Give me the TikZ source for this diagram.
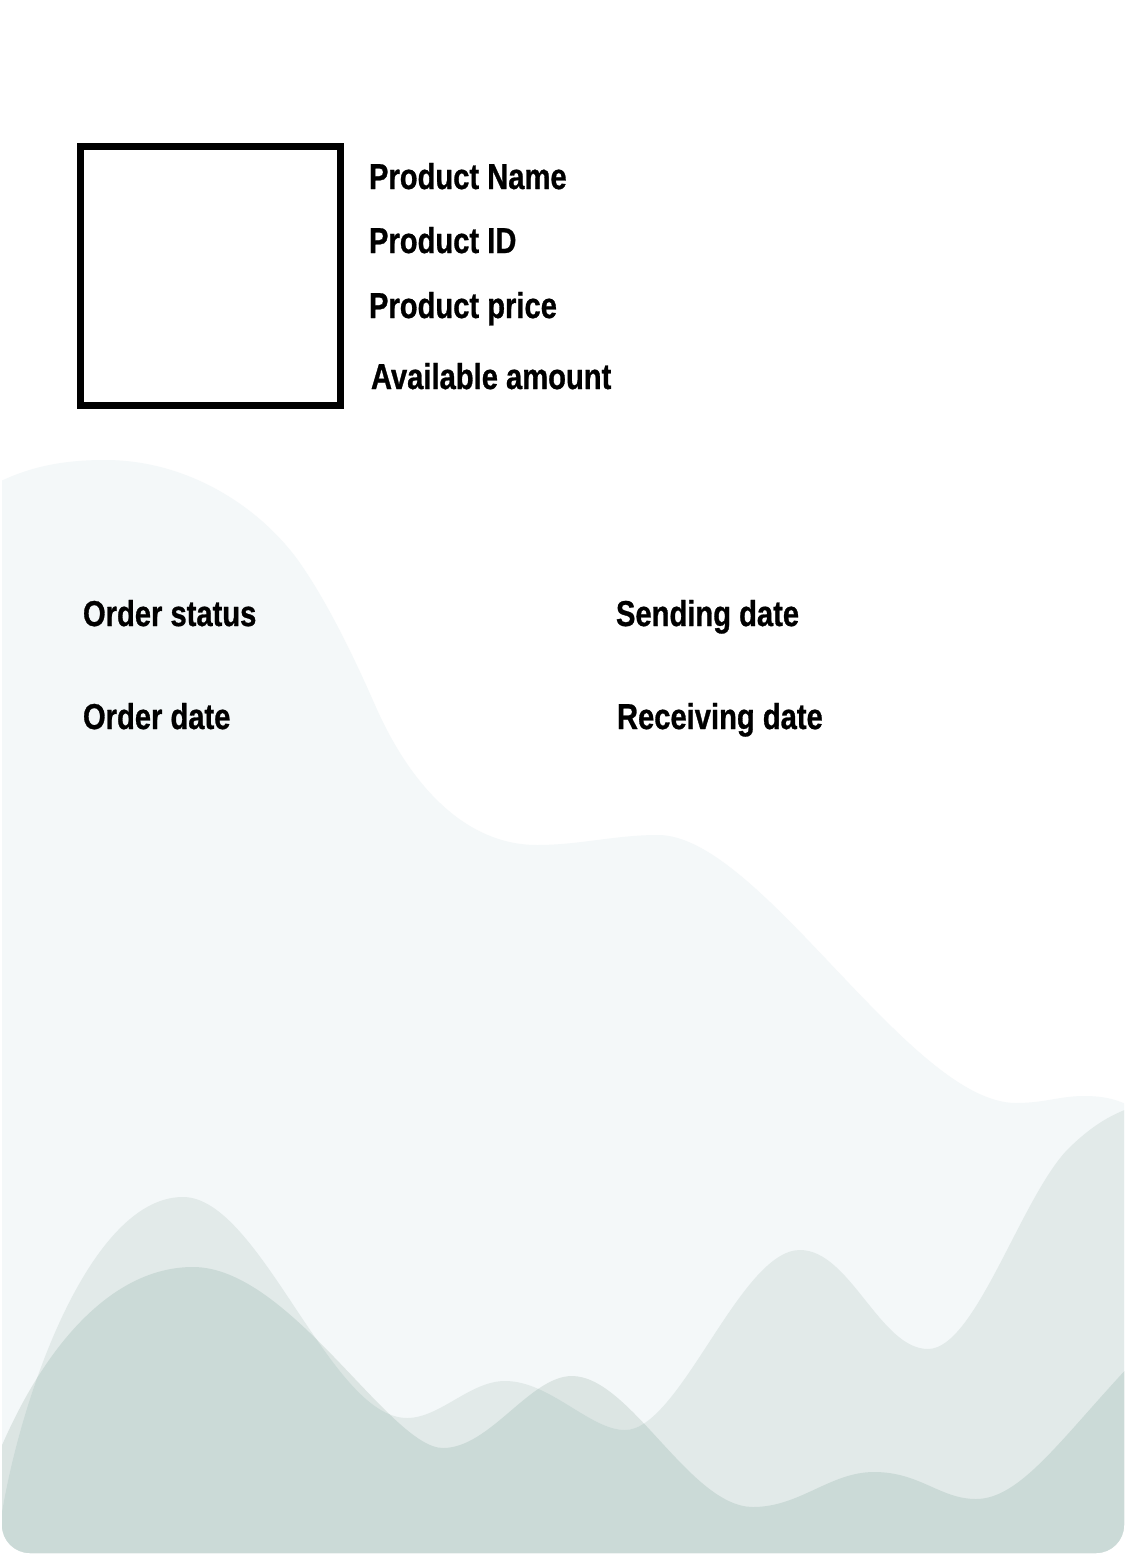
\documentclass[tikz,border=0pt]{standalone}
\usepackage{fontspec}
\newfontfamily\labfont{Liberation Sans}[FakeStretch=0.81, BoldFeatures={FakeBold=0.8}]
\definecolor{wavelight}{HTML}{F4F8F9}
\definecolor{wavemid}{HTML}{E2EAE9}
\definecolor{wavedarkonly}{HTML}{DCE5E3}
\definecolor{wavedark}{HTML}{CBDAD7}
\tikzset{
  lab/.style={anchor=base west, inner sep=0pt, outer sep=0pt, font=\labfont\bfseries\fontsize{36}{42}\selectfont, text=black},
  photobox/.style={draw=black, line width=7pt, inner sep=0pt, minimum width=260pt, minimum height=259pt, fill=white}
}
\begin{document}
\begin{tikzpicture}[x=1pt,y=-1pt]
\useasboundingbox (0,0) rectangle (1125,1555);
\fill[white] (0,0) rectangle (1125,1555);
\begin{scope}
\clip[rounded corners=28pt] (2,-100) rectangle (1124,1553);
% light layer
\fill[wavelight] (-5,484) .. controls (30,466) and (65,460) .. (105,460)
  .. controls (190,460) and (262,509) .. (300,563)
  .. controls (325,599) and (350,648) .. (375,705)
  .. controls (410,785) and (465,845) .. (537,845)
  .. controls (580,845) and (615,835) .. (658,835)
  .. controls (760,835) and (910,1103) .. (1016,1103)
  .. controls (1045,1103) and (1060,1096) .. (1084,1096)
  .. controls (1105,1096) and (1118,1100) .. (1130,1106)
  -- (1130,1600) -- (-5,1600) -- cycle;
% dark layer (alone)
\fill[wavedarkonly] (-5,1462) .. controls (40,1350) and (110,1267) .. (193,1267)
  .. controls (290,1267) and (390,1448) .. (443,1448)
  .. controls (490,1448) and (530,1376) .. (572,1376)
  .. controls (630,1376) and (690,1507) .. (753,1507)
  .. controls (800,1507) and (830,1472) .. (874,1472)
  .. controls (920,1472) and (940,1499) .. (976,1499)
  .. controls (1020,1499) and (1060,1440) .. (1130,1365)
  -- (1130,1600) -- (-5,1600) -- cycle;
% medium layer
\fill[wavemid] (-2,1540) .. controls (12,1420) and (85,1197) .. (183,1197)
  .. controls (260,1197) and (330,1418) .. (407,1418)
  .. controls (440,1418) and (470,1381) .. (505,1381)
  .. controls (550,1381) and (590,1430) .. (625,1430)
  .. controls (680,1430) and (740,1250) .. (800,1250)
  .. controls (850,1250) and (880,1349) .. (928,1349)
  .. controls (975,1349) and (1020,1200) .. (1067,1150)
  .. controls (1090,1127) and (1110,1115) .. (1130,1108)
  -- (1130,1600) -- (-5,1600) -- (-5,1540) -- cycle;
% overlap
\begin{scope}
\clip (-2,1540) .. controls (12,1420) and (85,1197) .. (183,1197)
  .. controls (260,1197) and (330,1418) .. (407,1418)
  .. controls (440,1418) and (470,1381) .. (505,1381)
  .. controls (550,1381) and (590,1430) .. (625,1430)
  .. controls (680,1430) and (740,1250) .. (800,1250)
  .. controls (850,1250) and (880,1349) .. (928,1349)
  .. controls (975,1349) and (1020,1200) .. (1067,1150)
  .. controls (1090,1127) and (1110,1115) .. (1130,1108)
  -- (1130,1600) -- (-5,1600) -- (-5,1540) -- cycle;
\fill[wavedark] (-5,1462) .. controls (40,1350) and (110,1267) .. (193,1267)
  .. controls (290,1267) and (390,1448) .. (443,1448)
  .. controls (490,1448) and (530,1376) .. (572,1376)
  .. controls (630,1376) and (690,1507) .. (753,1507)
  .. controls (800,1507) and (830,1472) .. (874,1472)
  .. controls (920,1472) and (940,1499) .. (976,1499)
  .. controls (1020,1499) and (1060,1440) .. (1130,1365)
  -- (1130,1600) -- (-5,1600) -- cycle;
\end{scope}
\end{scope}
% product box and labels
\node[photobox] (photo) at (210.5,276) {};
\node[lab] (pname) at (369,189) {Product Name};
\node[lab] (pid) at (369,253) {Product ID};
\node[lab] (pprice) at (369,318) {Product price};
\node[lab] (pamount) at (371,389) {Available amount};
\node[lab] (ostatus) at (83,626) {Order status};
\node[lab] (odate) at (83,729) {Order date};
\node[lab] (sdate) at (616,626) {Sending date};
\node[lab] (rdate) at (617,729) {Receiving date};
\end{tikzpicture}
\end{document}
